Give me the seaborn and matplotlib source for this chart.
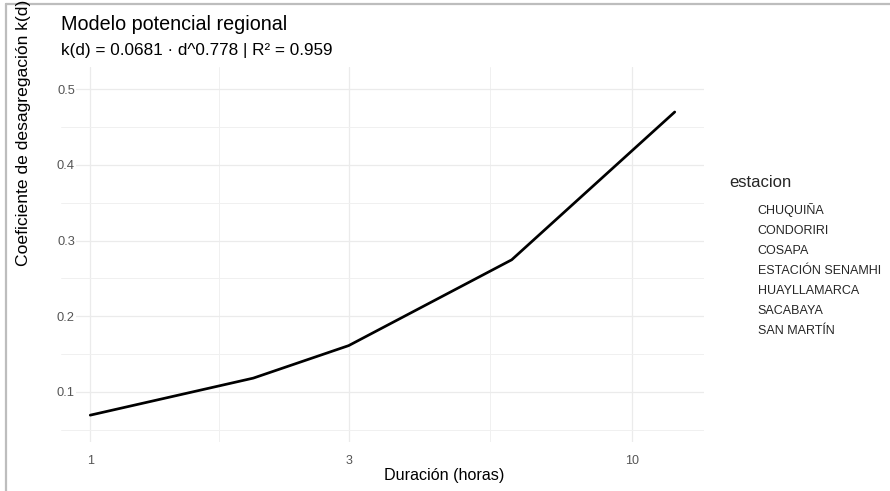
import numpy as np
import pandas as pd
import matplotlib
matplotlib.use("Agg")
import matplotlib.pyplot as plt
from matplotlib.lines import Line2D
from matplotlib.ticker import FixedLocator, NullFormatter, FixedFormatter
import seaborn as sns

# ---- data ----
duracion = [1, 2, 3, 6, 12]
k_valores = [0.0690, 0.1180, 0.1610, 0.2745, 0.4700]
estaciones = ["CHUQUIÑA", "CONDORIRI", "COSAPA", "ESTACIÓN SENAMHI",
              "HUAYLLAMARCA", "SACABAYA", "SAN MARTÍN"]
x_ticks = [1, 3, 10]
x_tick_labels = ["1", "3", "10"]
y_ticks = [0.1, 0.2, 0.3, 0.4, 0.5]
y_tick_labels = ["0.1", "0.2", "0.3", "0.4", "0.5"]

titulo = "Modelo potencial regional"
subtitulo = "k(d) = 0.0681 · d^0.778 | R² = 0.959"

df = pd.DataFrame({"duracion": duracion, "k": k_valores})

sns.set_theme(style="white")
plt.rcParams["font.family"] = ["Liberation Sans", "DejaVu Sans"]

W, H = 890, 491
fig = plt.figure(figsize=(W / 100, H / 100), dpi=100)
ax = fig.add_axes([61 / W, 1 - 442 / H, (704 - 61) / W, (442 - 67) / H])

sns.lineplot(data=df, x="duracion", y="k", color="black", linewidth=1.95,
             ax=ax, zorder=3)

ax.set_xscale("log")
ax.set_xlim(0.883, 13.59)
ax.set_ylim(0.0335, 0.5295)

ax.xaxis.set_major_locator(FixedLocator(x_ticks))
ax.xaxis.set_major_formatter(FixedFormatter(x_tick_labels))
ax.xaxis.set_minor_locator(FixedLocator([np.sqrt(3), np.sqrt(30)]))
ax.xaxis.set_minor_formatter(NullFormatter())
ax.yaxis.set_major_locator(FixedLocator(y_ticks))
ax.yaxis.set_major_formatter(FixedFormatter(y_tick_labels))
ax.yaxis.set_minor_locator(FixedLocator([0.05, 0.15, 0.25, 0.35, 0.45]))

ax.grid(which="major", color="#EBEBEB", linewidth=0.9)
ax.grid(which="minor", color="#F0F0F0", linewidth=0.7)
ax.set_axisbelow(True)
for s in ax.spines.values():
    s.set_visible(False)
ax.tick_params(axis="both", which="both", length=0)
ax.tick_params(axis="x", labelsize=9, labelcolor="#555555", pad=9)
ax.tick_params(axis="y", labelsize=9.3, labelcolor="#555555", pad=-10)
for lab in ax.get_yticklabels():
    lab.set_bbox(dict(facecolor="white", edgecolor="none", pad=1.0))
ax.set_xlabel("")
ax.set_ylabel("")

# axis titles
fig.text(444 / W, 1 - 480 / H, "Duración (horas)", ha="center", va="baseline",
         fontsize=11.6, color="black")
fig.text(16 / W, 1 - 266 / H, "Coeficiente de desagregación k(d)",
         rotation=90, ha="left", va="bottom", fontsize=12.6, color="black")

# title / subtitle
fig.text(61 / W, 1 - 30 / H, titulo, ha="left", va="baseline",
         fontsize=14.2, color="black")
fig.text(61 / W, 1 - 55 / H, subtitulo, ha="left", va="baseline",
         fontsize=12.3, color="black")

# legend (keys are blank)
handles = [Line2D([], [], color="none") for _ in estaciones]
leg = fig.legend(handles, estaciones, title="estacion", loc="upper left",
                 bbox_to_anchor=(729 / W, 1 - 175 / H), frameon=False,
                 fontsize=9, title_fontsize=12, handlelength=1.5,
                 handletextpad=0.8, labelspacing=0.64, borderpad=0,
                 borderaxespad=0)
leg._legend_box.align = "left"
leg._legend_box.sep = 9.5

# outer frame lines (screenshot border)
fig.add_artist(Line2D([6 / W, 6 / W], [0, 1 - 4 / H], transform=fig.transFigure,
                      color="#BDBDBD", linewidth=1.6))
fig.add_artist(Line2D([6 / W, 1], [1 - 4 / H, 1 - 4 / H], transform=fig.transFigure,
                      color="#BDBDBD", linewidth=1.6))

fig.savefig("out.png", dpi=100, facecolor="white")
